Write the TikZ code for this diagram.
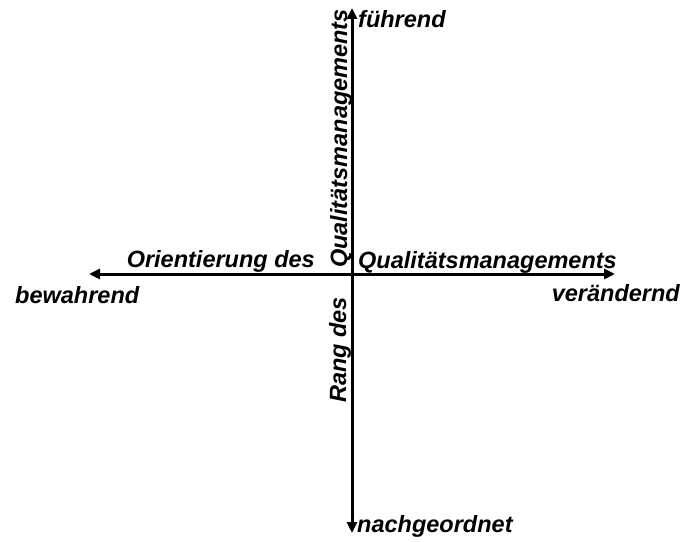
\documentclass[tikz,border=0pt]{standalone}
\usepackage{fontspec}
\setmainfont{Liberation Sans}
\usetikzlibrary{arrows.meta}
\begin{document}
\begin{tikzpicture}[x=1bp,y=-1bp,
  axis/.style={line width=3bp,-{Triangle[length=11bp,width=10bp]}},
  lbl/.style={inner sep=0pt,font=\fontsize{23.5bp}{28bp}\selectfont\bfseries\itshape}]
\useasboundingbox (0,0) rectangle (687,542);
\coordinate (O) at (352,274);
\coordinate (L) at (89,274);
\coordinate (R) at (615,274);
\coordinate (T) at (352,8);
\coordinate (B) at (352,533);
\draw[axis] (O) -- (L);
\draw[axis] (O) -- (R);
\draw[axis] (O) -- (T);
\draw[axis] (O) -- (B);
\node[lbl,anchor=base west] (fuehrend) at (358,28) {führend};
\node[lbl,anchor=base west] (nach) at (357,532) {nachgeordnet};
\node[lbl,anchor=base east] (orient) at (315,268) {Orientierung des};
\node[lbl,anchor=base west] (qmh) at (358,269) {Qualitätsmanagements};
\node[lbl,anchor=base west] (bew) at (15,303) {bewahrend};
\node[lbl,anchor=base east] (ver) at (680,301) {verändernd};
\node[lbl,anchor=base west,rotate=90] (qmv) at (347,268) {Qualitätsmanagements};
\node[lbl,anchor=base west,rotate=90] (rang) at (346,403) {Rang des};
\end{tikzpicture}
\end{document}
